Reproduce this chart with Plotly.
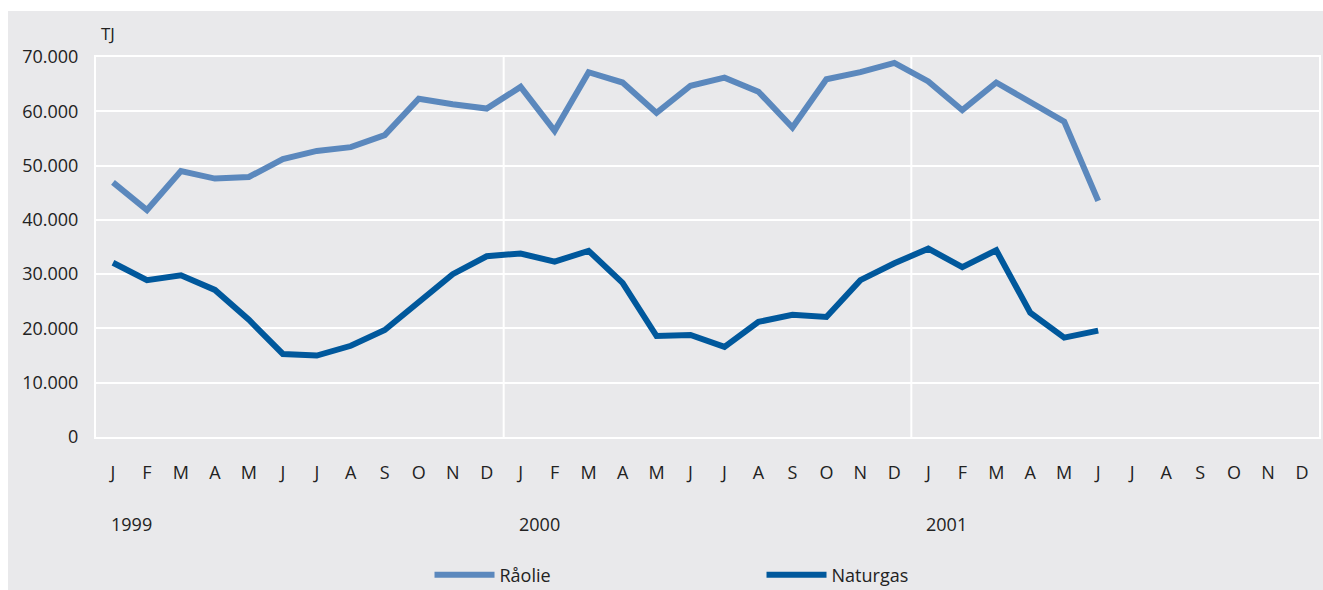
import plotly.graph_objects as go

months = ["J", "F", "M", "A", "M", "J", "J", "A", "S", "O", "N", "D"] * 3
years = ["1999", "2000", "2001"]

raaolie = [46900, 41800, 49000, 47600, 47900, 51200, 52700, 53400, 55600, 62300, 61300, 60500,
           64500, 56400, 67200, 65300, 59700, 64700, 66200, 63600, 57000, 65900, 67200, 68900,
           65500, 60200, 65300, 61800, 58100, 43500]
naturgas = [32100, 28900, 29800, 27100, 21600, 15300, 15000, 16800, 19700, 24900, 30000, 33300,
            33800, 32300, 34300, 28400, 18600, 18800, 16600, 21200, 22500, 22100, 28900, 32000,
            34700, 31300, 34400, 22900, 18300, 19600]

y_ticks = [0, 10000, 20000, 30000, 40000, 50000, 60000, 70000]

idx = list(range(len(months)))
TXT = "#222222"

W, H = 1323, 590
ML, MR, MT, MB = 96, 4, 57, 153
PW, PH = W - ML - MR, H - MT - MB

fig = go.Figure()
fig.add_trace(go.Scatter(x=idx[:len(raaolie)], y=raaolie, mode="lines", name="Råolie",
                         line=dict(color="#5b88bd", width=6)))
fig.add_trace(go.Scatter(x=idx[:len(naturgas)], y=naturgas, mode="lines", name="Naturgas",
                         line=dict(color="#00589c", width=6)))

# year separator lines
for k in range(1, len(years)):
    fig.add_shape(type="line", xref="x", yref="y", x0=12 * k - 0.5, x1=12 * k - 0.5,
                  y0=0, y1=max(y_ticks), line=dict(color="white", width=2), layer="below")

# year labels
for k, yr in enumerate(years):
    fig.add_annotation(x=12 * k, y=-0.229, xref="x", yref="paper", text=yr,
                       showarrow=False, xanchor="left", yanchor="middle",
                       font=dict(size=18, color=TXT), xshift=-4)

fig.add_annotation(x=0, y=1.063, xref="paper", yref="paper", text="TJ", showarrow=False,
                   xanchor="left", yanchor="middle", font=dict(size=17, color=TXT), xshift=3)

# outer gray panel, leaving a thin white strip at top and left
fig.add_shape(type="rect", xref="paper", yref="paper",
              x0=(8 - ML) / PW, x1=(W + 5 - ML) / PW,
              y0=-(MB + 5) / PH, y1=1 + (MT - 11) / PH,
              fillcolor="#e9e9eb", line=dict(width=0), layer="below")

fig.update_layout(
    width=W, height=H,
    margin=dict(l=ML, r=MR, t=MT, b=MB, autoexpand=False),
    paper_bgcolor="white",
    plot_bgcolor="#dfe0e2",
    separators=",.",
    font=dict(family="Open Sans, Noto Sans, sans-serif", size=18, color=TXT),
    showlegend=True,
    hovermode=False,
    legend=dict(orientation="h", x=0.2727, xanchor="left", y=-0.363, yanchor="middle",
                entrywidth=257, entrywidthmode="pixels", bgcolor="rgba(0,0,0,0)",
                font=dict(size=18, color=TXT), itemwidth=60, tracegroupgap=0),
)
fig.update_xaxes(range=[-0.5, 35.5], tickmode="array", tickvals=idx, ticktext=months,
                 showgrid=False, zeroline=False, showline=True, linecolor="white", linewidth=2,
                 mirror=True, ticks="", ticklabelstandoff=18, tickfont=dict(size=18))
fig.update_yaxes(range=[0, 70000], tickmode="array", tickvals=y_ticks, tickformat=",d",
                 showgrid=True, gridcolor="white", gridwidth=2, zeroline=False,
                 showline=True, linecolor="white", linewidth=2, mirror=True, ticks="",
                 ticklabelstandoff=12, tickfont=dict(size=18))

post = ("document.documentElement.style.overflow='hidden';"
        "document.body.style.margin='0';document.body.style.overflow='hidden';")
fig.write_html("out.html", post_script=post, config={"displayModeBar": False})
